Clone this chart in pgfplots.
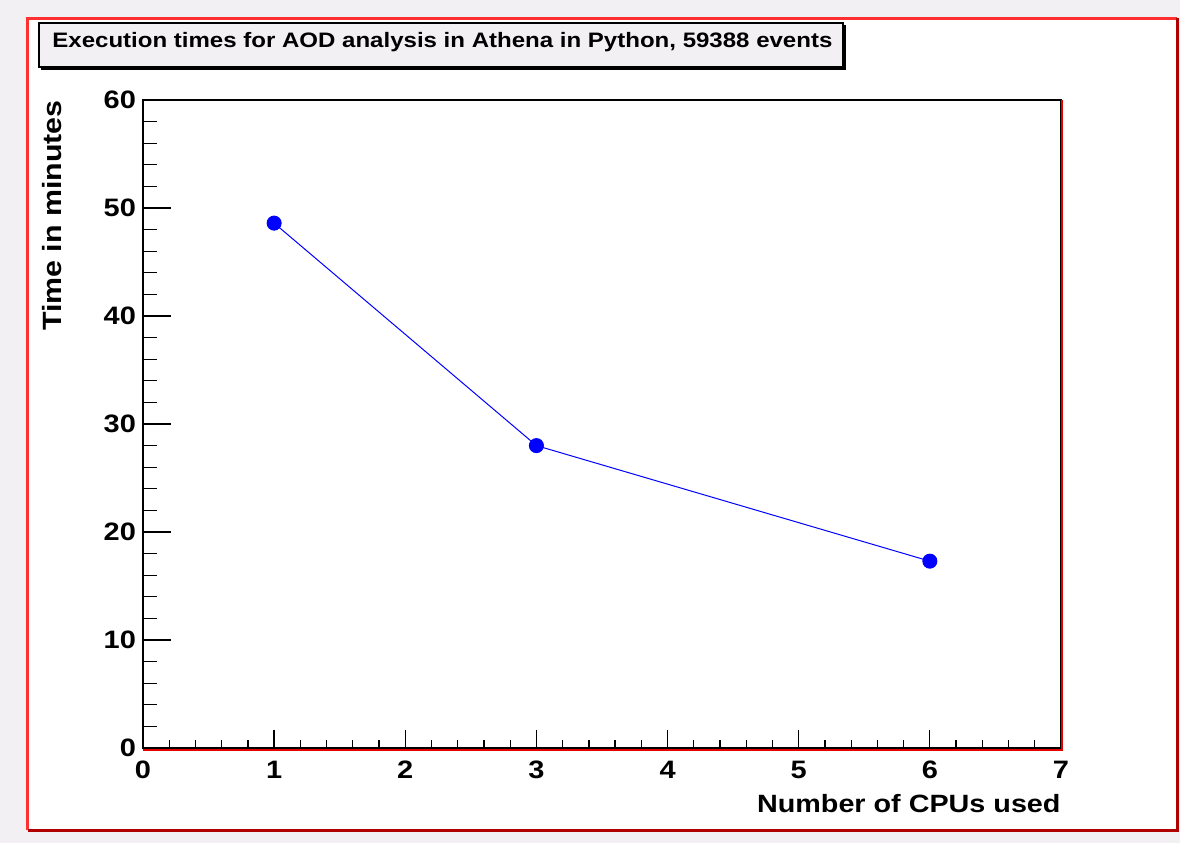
\documentclass[border=0pt]{standalone}
\usepackage{fontspec}
\setmainfont{Liberation Sans}[FakeStretch=1.15]
\usepackage{pgfplots}
\pgfplotsset{compat=1.18}
\definecolor{rootbg}{HTML}{F3F0F4}
\definecolor{rootred}{HTML}{FF3030}
\definecolor{rootdark}{HTML}{B00000}

\begin{document}
\begin{tikzpicture}
% canvas, in pixel units of the reference (origin at the axis corner)
\begin{scope}[x=0.5pt,y=-0.5pt,shift={(-71.5pt,374pt)}]
  \fill[rootbg] (0,0) rectangle (1180,843);
  \fill[white] (28,18) rectangle (1177,830);
  \draw[rootred,line width=1.5pt] (28,830) -- (28,18) -- (1177,18);
  \draw[rootdark,line width=1.5pt] (1177,18) -- (1177,830) -- (28,830);
\end{scope}

\pgfplotsset{
  rootaxis/.style={
    scale only axis,
    width=459pt, height=324pt,
    xmin=0, xmax=7, ymin=0, ymax=60,
    axis line style={black, line width=0.7pt},
    tick align=inside,
    tick style={black, line width=0.65pt},
    tick label style={font=\fontsize{12.6}{14}\selectfont\bfseries},
    /pgf/number format/assume math mode=true,
  }
}

% data and x ticks
\begin{axis}[
  rootaxis,
  xtick={0,1,...,7},
  minor x tick num=4,
  ytick=\empty,
  xtick pos=left,
  major tick length=9pt,
  minor tick length=4pt,
  xticklabel style={yshift=-3pt},
  xlabel={Number of CPUs used},
  xlabel style={at={(axis description cs:1,-0.0988)}, anchor=base east,
    inner sep=0pt, font=\fontsize{12.5}{14}\selectfont\bfseries},
  ylabel={Time in minutes},
  ylabel style={at={(axis description cs:-0.0885,1)}, anchor=base east,
    inner sep=0pt, font=\fontsize{13.2}{15}\selectfont\bfseries},
]
\addplot[blue, line width=0.5pt, mark=*, mark size=3.5pt,
  mark options={fill=blue, draw=blue}] coordinates {
  (1,48.6)
  (3,28.0)
  (6,17.3)
};
\end{axis}

% y ticks
\begin{axis}[
  rootaxis,
  xtick=\empty,
  ytick={0,10,...,60},
  minor y tick num=4,
  ytick pos=left,
  major tick length=14pt,
  minor tick length=7pt,
]
\end{axis}

\begin{scope}[x=0.5pt,y=-0.5pt,shift={(-71.5pt,374pt)}]
  % red pad edges along the bottom and right of the frame
  \draw[red!90!black,line width=1pt] (143,749.5) -- (1061.5,749.5) -- (1061.5,100);
  % title box
  \fill[black] (41,25) rectangle (846,70);
  \filldraw[fill=rootbg, draw=black, line width=0.6pt] (39,23) rectangle (843,67);
  \node[anchor=base west, inner sep=0pt, font=\fontsize{10.45}{13}\selectfont\bfseries]
    at (52,47.7) {Execution times for AOD analysis in Athena in Python, 59388 events};
\end{scope}
\pgfresetboundingbox
\path[use as bounding box] (-71.5pt,-47.5pt) rectangle (518.5pt,374pt);
\end{tikzpicture}
\end{document}
